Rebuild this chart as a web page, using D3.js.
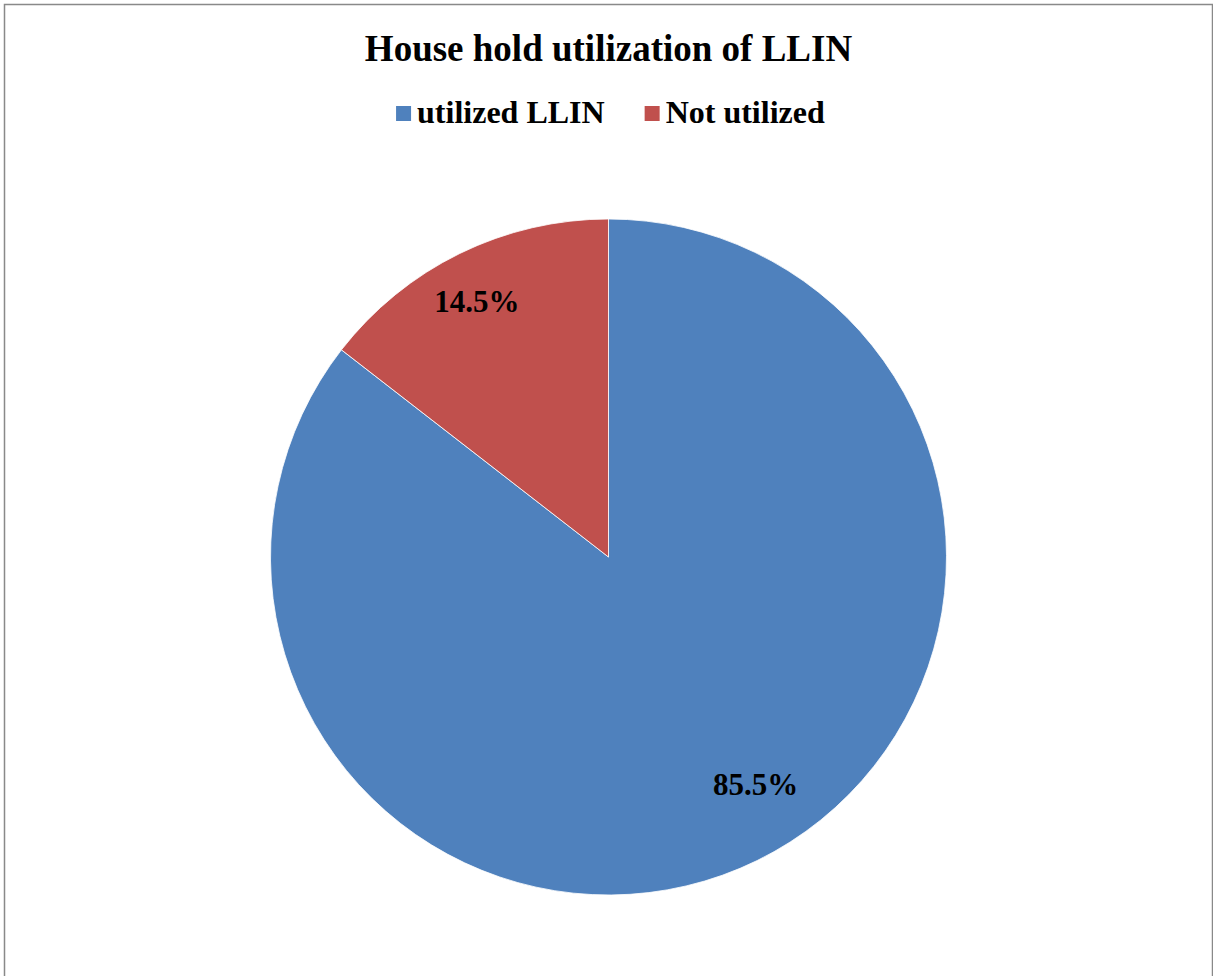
<!DOCTYPE html>
<html><head><meta charset="utf-8">
<script src="https://cdn.jsdelivr.net/npm/d3@7"></script>
<style>body{margin:0;background:#fff}svg{display:block}</style>
</head><body>
<svg id="c" width="1213" height="976"></svg>
<script>
const title = "House hold utilization of LLIN";
const categories = ["utilized LLIN", "Not utilized"];
const values = [85.5, 14.5];
const labels = ["85.5%", "14.5%"];
const colors = ["#4F81BD", "#C0504D"];

const svg = d3.select("#c");
const W = 1213, H = 976;
const font = "'Liberation Serif','Times New Roman',serif";

svg.append("rect").attr("x",4.5).attr("y",4.5).attr("width",W-5).attr("height",H+10)
  .attr("fill","#fff").attr("stroke","#898989").attr("stroke-width",1.5);

svg.append("text").attr("x",608.5).attr("y",61).attr("text-anchor","middle")
  .attr("font-family",font).attr("font-weight","bold").attr("font-size",37)
  .text(title);

// legend
const lg = svg.append("g").attr("font-family",font).attr("font-weight","bold").attr("font-size",32);
const items = lg.selectAll("g").data(categories).join("g");
items.append("rect").attr("width",15).attr("height",15).attr("y",-17).attr("fill",(d,i)=>colors[i]);
items.append("text").attr("x",21).attr("y",0).text(d=>d);
let widths = [];
items.each(function(){ widths.push(this.getBBox().width); });
const gap = 40;
const total = d3.sum(widths) + gap*(widths.length-1);
let x0 = 610.5 - total/2;
items.attr("transform",(d,i)=>{ const x = x0; x0 += widths[i]+gap; return `translate(${x},123)`; });

// pie
const cx = 608.5, cy = 557, r = 338;
const pie = d3.pie().sort(null).value(d=>d)(values);
const arc = d3.arc().innerRadius(0).outerRadius(r);
const g = svg.append("g").attr("transform",`translate(${cx},${cy})`);
g.selectAll("path").data(pie).join("path").attr("d",arc)
  .attr("fill",(d,i)=>colors[i]).attr("stroke","#fff").attr("stroke-width",0.8);

const labelFrac = [0.8, 0.85];
const labelTurn = [-0.12, -0.02];
g.selectAll("text.lab").data(pie).join("text").attr("class","lab")
  .attr("transform",(d,i)=>{
     const rr = r*labelFrac[i];
     const ang = (d.startAngle+d.endAngle)/2 + labelTurn[i];
     return `translate(${rr*Math.sin(ang)},${-rr*Math.cos(ang)})`;
  })
  .attr("text-anchor","middle").attr("dy","0.35em")
  .attr("font-family",font).attr("font-weight","bold").attr("font-size",31)
  .text((d,i)=>labels[i]);
</script>
</body></html>
